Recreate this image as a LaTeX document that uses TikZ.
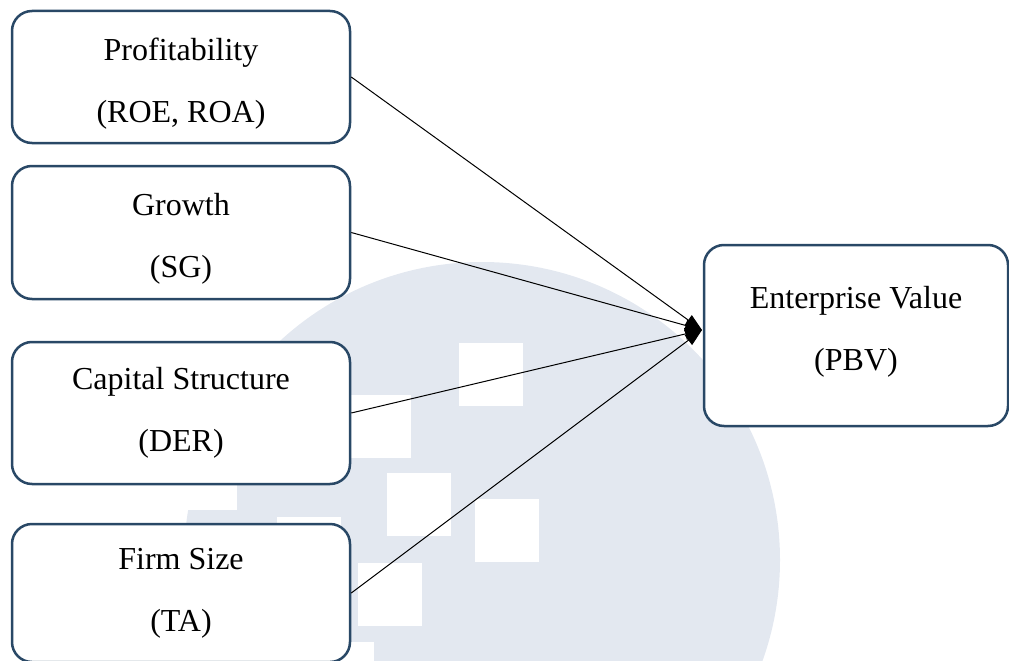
\documentclass[tikz,border=0pt]{standalone}
\usepackage{fontspec}
\setmainfont{Liberation Serif}
\usepackage[dvipsnames]{xcolor}
\usetikzlibrary{positioning, arrows.meta}

\definecolor{bordo}{HTML}{294866}
\definecolor{filigrana}{HTML}{E3E8F0}

\begin{document}
\begin{tikzpicture}[x=1pt, y=-1pt,
		varbox/.style={draw=bordo, line width=2.5pt, rounded corners=20pt, fill=white,
			align=center, minimum width=338pt, font=\fontsize{32}{62}\selectfont},
		freccia/.style={-{Triangle[length=17pt, width=12pt]}, line width=1pt}]
		\useasboundingbox (0,0) rectangle (1009,661);
		\clip (0,0) rectangle (1009,661);
		
		% Filigrana sullo sfondo
		\fill[filigrana] (482,560) circle[radius=298pt];
		\foreach \sx/\sy in {459/343, 347/395, 387/473, 475/499, 358/563, 277/517, 173/447, 310/642}
			\fill[white] (\sx,\sy) rectangle ++(64,63);
		
		% Definizione dei nodi
		\node[varbox, minimum height=132pt] at (181,77) (Profit) {\rule{0pt}{35pt}Profitability\\(ROE, ROA)};
		\node[varbox, minimum height=133pt, below=20.5pt of Profit] (Growth) {\rule{0pt}{35pt}Growth\\(SG)};
		\node[varbox, minimum height=142pt, below=40.5pt of Growth] (Capital) {Capital Structure\\(DER)};
		\node[varbox, minimum height=138pt, below=37.5pt of Capital] (Size) {Firm Size\\(TA)};
		\node[varbox, minimum width=304pt, minimum height=181pt] at (856,335.5) (Value) {Enterprise Value\\(PBV)\rule[-15pt]{0pt}{0pt}};
		\coordinate (Hub) at (702,330);
		
		% Collegamenti
		\draw[freccia] (Profit.east) -- (Hub);
		\draw[freccia] (Growth.east) -- (Hub);
		\draw[freccia] (Capital.east) -- (Hub);
		\draw[freccia] (Size.east) -- (Hub);
	\end{tikzpicture}
\end{document}
